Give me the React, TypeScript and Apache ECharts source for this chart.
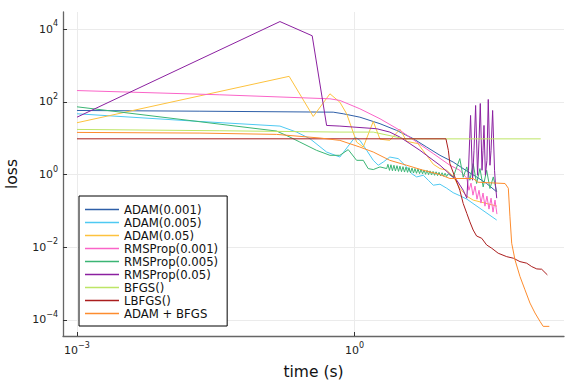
import React, { useEffect, useRef } from "react";
import * as echarts from "echarts";

const FONT = '"DejaVu Sans", "Liberation Sans", sans-serif';

const seriesNames = [
  "ADAM(0.001)",
  "ADAM(0.005)",
  "ADAM(0.05)",
  "RMSProp(0.001)",
  "RMSProp(0.005)",
  "RMSProp(0.05)",
  "BFGS()",
  "LBFGS()",
  "ADAM + BFGS",
];

const seriesColors = [
  "#2e5fa8",
  "#4ec9f2",
  "#fdc23e",
  "#fa64c8",
  "#3bb574",
  "#8b20a0",
  "#bde566",
  "#aa1d1d",
  "#fd8c2e",
];

// [time (s), loss]
const adam001: [number, number][] = [
  [0.001, 57.8], [0.0213, 55.2], [0.587, 51.9], [0.753, 46.9], [1.14, 37.8], [1.88, 25.0],
  [2.84, 16.4], [4.3, 9.69], [6.0, 5.7], [8.36, 3.38], [11.6, 2.21], [16.9, 1.18],
  [20.8, 0.86], [26.7, 0.567], [34.3, 0.334],
];

const adam005: [number, number][] = [
  [0.001, 46.9], [0.0213, 28.8], [0.156, 21.5], [0.236, 14.7], [0.329, 9.69], [0.498, 4.16],
  [0.693, 3.03], [1.01, 10.7], [1.14, 8.71], [1.35, 4.63], [1.59, 2.46], [1.8, 1.8],
  [2.04, 2.21], [2.4, 3.03], [2.96, 2.74], [3.65, 1.62], [4.13, 1.06], [4.68, 0.86],
  [5.52, 0.957], [6.25, 0.698], [7.08, 0.509], [8.36, 0.542], [9.88, 0.421], [11.6, 0.317],
  [13.7, 0.262], [16.3, 0.211], [34.3, 0.056],
];

const adam05: [number, number][] = [
  [0.001, 26.6], [0.196, 502], [0.357, 39.5], [0.541, 166], [0.693, 97.5], [0.82, 46.9],
  [1.05, 7.82], [1.24, 5.7], [1.59, 28.8], [1.88, 9.39], [2.4, 8.71], [3.09, 17.6],
  [3.65, 8.17], [4.83, 7.07], [6.0, 3.38], [7.08, 1.92], [8.36, 1.46], [9.88, 1.31],
  [11.6, 0.898], [13.7, 0.421], [16.3, 0.254], [19.1, 0.198], [25.6, 0.164], [34.5, 0.135],
];

const rms001: [number, number][] = [
  [0.001, 204], [0.035, 156], [0.541, 121], [0.693, 109], [1.14, 64.3], [1.88, 34.2],
  [3.09, 16.4], [4.68, 7.82], [7.08, 3.76], [10.7, 1.8], [13.7, 1.31], [16.3, 0.79],
  [17.2, 0.37], [18.1, 0.58], [19.0, 0.271], [20.0, 0.48], [21.0, 0.21], [22.1, 0.37],
  [23.2, 0.164], [24.4, 0.31], [25.6, 0.135], [26.9, 0.254], [28.3, 0.112], [29.8, 0.224],
  [31.3, 0.0927], [32.9, 0.198], [34.5, 0.0817],
];

const rms005: [number, number][] = [
  [0.001, 72.9], [0.1435, 15.7], [0.2, 10.7], [0.256, 7.82], [0.388, 4.63], [0.541, 3.38],
  [0.693, 3.38], [0.853, 4.84], [1.05, 2.46], [1.24, 2.46], [1.4, 1.46], [1.59, 1.37],
  [1.88, 1.62], [2.22, 1.46],
  [2.29, 1.91], [2.38, 1.3], [2.47, 1.86], [2.56, 1.27], [2.66, 1.8], [2.76, 1.25],
  [2.87, 1.75], [2.98, 1.22], [3.09, 1.7], [3.21, 1.2], [3.33, 1.65], [3.46, 1.17],
  [3.59, 1.6], [3.73, 1.15], [3.87, 1.55], [4.02, 1.12], [4.17, 1.51], [4.33, 1.1],
  [4.49, 1.46], [4.66, 1.08], [4.84, 1.42], [5.03, 1.06], [5.22, 1.38], [5.42, 1.04],
  [5.62, 1.34], [5.84, 1.015], [6.06, 1.3], [6.29, 0.994], [6.53, 1.26], [6.78, 0.974],
  [7.04, 1.22], [7.31, 0.954], [7.59, 1.19], [7.87, 0.934], [8.17, 1.15], [8.49, 0.915],
  [8.81, 1.12], [9.14, 0.897], [9.49, 1.085], [9.86, 0.879], [10.23, 1.05],
  [11.6, 0.843], [13.7, 2.74], [14.9, 0.843], [16.3, 1.62], [17.6, 0.698], [19.1, 2.0],
  [20.8, 0.567], [22.6, 1.46], [24.5, 0.457], [26.7, 1.31], [29.0, 0.413], [31.5, 0.86],
  [34.3, 0.334],
];

const rms05: [number, number][] = [
  [0.001, 37.8], [0.156, 16100], [0.348, 6550], [0.498, 22.4], [0.693, 21.5], [1.73, 18.2],
  [2.4, 14.7], [3.09, 10.7], [3.96, 7.07], [5.08, 4.63], [6.52, 2.88], [8.36, 1.8],
  [10.7, 1.02], [12.7, 0.698], [14.9, 0.372], [16.3, 0.224], [17.0, 1.31], [17.9, 42.2],
  [18.8, 0.698], [19.5, 4.63], [20.3, 79.2], [21.3, 0.957], [22.1, 8.71], [22.8, 89.8],
  [23.8, 1.31], [24.4, 4.63], [25.0, 22.4], [25.9, 0.957], [26.9, 2.46], [27.8, 116],
  [29.0, 1.8], [29.8, 4.63], [31.0, 57.8], [32.5, 1.31], [33.3, 0.509], [34.3, 0.224],
];

const bfgs: [number, number][] = [
  [0.001, 17.4], [0.035, 16.0], [0.693, 14.7], [1.59, 14.7], [3.5, 9.57], [102.5, 9.57],
];

const lbfgs: [number, number][] = [
  [0.001, 9.6], [9.7, 9.6], [10.3, 4.63], [10.7, 2.0], [12.1, 0.86], [13.7, 0.37],
  [14.9, 0.16], [16.3, 0.0855], [17.6, 0.05], [19.1, 0.0298], [20.8, 0.0204], [23.6, 0.0177],
  [26.7, 0.0116], [30.3, 0.0094], [35.6, 0.00686], [44.0, 0.00552], [51.9, 0.005],
  [61.2, 0.00403], [72.3, 0.00365], [82.0, 0.00294], [92.9, 0.00254], [105, 0.00249],
  [121, 0.00174],
];

const adamBfgs: [number, number][] = [
  [0.001, 14.4], [0.0213, 13.8], [0.1435, 12.7], [0.422, 10.1], [0.693, 8.7], [1.14, 5.7],
  [1.59, 4.16], [2.4, 2.46], [3.65, 1.8], [5.52, 1.31], [8.36, 1.0], [10.7, 0.777],
  [19.1, 0.777], [21.5, 0.615], [42.2, 0.567], [45.8, 0.42], [47.7, 0.0689], [49.8, 0.0129],
  [54.1, 0.00449], [61.2, 0.00157], [69.3, 0.000676], [78.5, 0.000292], [88.9, 0.000156],
  [100.7, 0.0000916], [109, 0.0000668], [127, 0.0000668],
];

const seriesData = [adam001, adam005, adam05, rms001, rms005, rms05, bfgs, lbfgs, adamBfgs];

const X_MIN = 7.06e-4;
const X_MAX = 183;
const Y_MIN = 3.63e-5;
const Y_MAX = 29500;

const supLabel = (v: number) => {
  const l = Math.log10(v);
  const e = Math.round(l);
  if (Math.abs(l - e) > 0.02) return "";
  const s = e < 0 ? "\u2212" + String(-e) : String(e);
  return `{b|10}{s|${s}}`;
};

const rich = {
  b: { fontFamily: FONT, fontSize: 11, color: "#222" },
  s: { fontFamily: FONT, fontSize: 8, color: "#222", padding: [0, 0, 11, 0] },
};

const axisCommon = {
  axisLine: { show: true, onZero: false, lineStyle: { color: "#666", width: 1.3 } },
  axisTick: { show: true, inside: true, length: 4, lineStyle: { color: "#333", width: 1 } },
  splitLine: {
    show: true,
    showMinLine: false,
    showMaxLine: false,
    lineStyle: { color: "#ebebeb", width: 1 },
  },
  minorTick: { show: false },
  minorSplitLine: { show: false },
  nameTextStyle: { fontFamily: FONT, fontSize: 15.5, color: "#111" },
  nameLocation: "middle" as const,
};

export default function App() {
  const ref = useRef<HTMLDivElement>(null);
  useEffect(() => {
    if (!ref.current) return;
    const chart = echarts.init(ref.current, null, { renderer: "svg" });
    const option: any = {
      animation: false,
      backgroundColor: "#ffffff",
      textStyle: { fontFamily: FONT },
      grid: { left: 63, right: 12, top: 12, bottom: 48, containLabel: false, outerBoundsMode: "none" },
      xAxis: {
        type: "log",
        logBase: 1000,
        min: X_MIN,
        max: X_MAX,
        name: "time (s)",
        nameGap: 28,
        ...axisCommon,
        axisLabel: {
          formatter: supLabel,
          margin: 5,
          showMinLabel: false,
          showMaxLabel: false,
          rich,
        },
      },
      yAxis: {
        type: "log",
        logBase: 100,
        min: Y_MIN,
        max: Y_MAX,
        name: "loss",
        nameGap: 43,
        nameRotate: 90,
        ...axisCommon,
        axisLabel: {
          formatter: supLabel,
          margin: 5,
          showMinLabel: false,
          showMaxLabel: false,
          rich,
        },
      },
      legend: {
        show: true,
        orient: "vertical",
        left: 79,
        top: 196,
        padding: [7, 9, 6, 6],
        itemGap: 0,
        itemWidth: 34,
        itemHeight: 13,
        icon: "path://M0,0 L34,0 L34,1.6 L0,1.6 Z",
        symbolKeepAspect: true,
        selectedMode: false,
        backgroundColor: "#ffffff",
        borderColor: "#000000",
        borderWidth: 1,
        borderRadius: 0,
        data: seriesNames,
        textStyle: { fontFamily: FONT, fontSize: 11.7, color: "#111", lineHeight: 13 },
      },
      series: seriesNames.map((name, i) => ({
        name,
        type: "line",
        data: seriesData[i],
        showSymbol: false,
        symbol: "none",
        color: seriesColors[i],
        lineStyle: { color: seriesColors[i], width: 1 },
        emphasis: { disabled: true },
        clip: true,
      })),
    };
    chart.setOption(option);
    return () => chart.dispose();
  }, []);
  return (
    <div
      ref={ref}
      style={{ position: "absolute", left: 0, top: 0, width: 576, height: 384, background: "#fff" }}
    />
  );
}
